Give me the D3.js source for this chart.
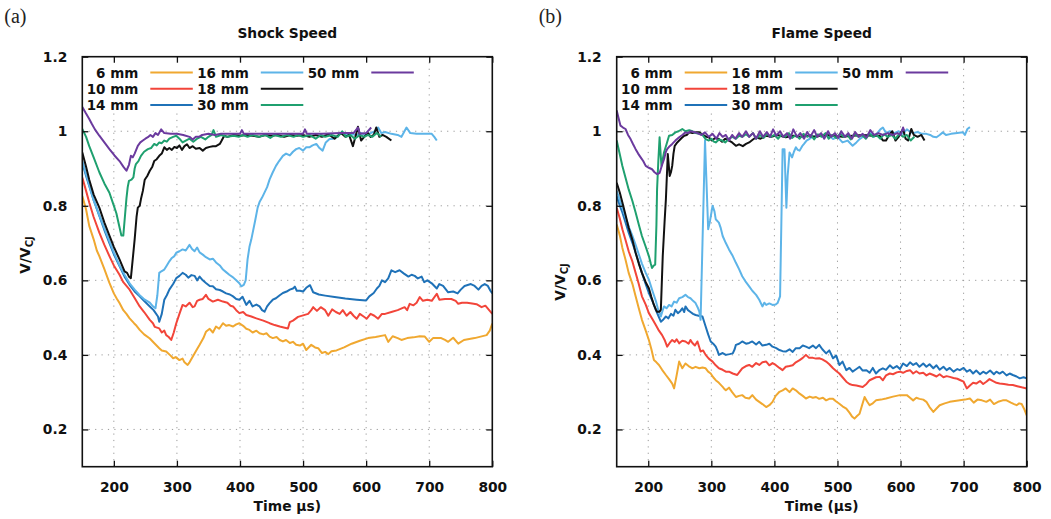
<!DOCTYPE html>
<html><head><meta charset="utf-8">
<script src="https://cdn.jsdelivr.net/npm/d3@7"></script>
<style>body{margin:0;background:#fff}</style>
</head><body><svg id="c" width="1051" height="519"></svg>
<script>
const categories = ["6 mm","10 mm","14 mm","16 mm","18 mm","30 mm","50 mm"];
const seriesColors = ["#f0a830","#f2453a","#1f72b8","#5db4e8","#111111","#1fa06f","#6b3a9e"];
const xTicks = [200,300,400,500,600,700,800];
const xTickLabels = ["200","300","400","500","600","700","800"];
const yTicks = [0.2,0.4,0.6,0.8,1.0,1.2];
const yTickLabels = ["0.2","0.4","0.6","0.8","1","1.2"];
const panelTitles = ["Shock Speed","Flame Speed"];
const panelLetters = ["(a)","(b)"];
const xLabels = ["Time \u00b5s)","Time (\u00b5s)"];

// ---- Shock speed (a) ----
const shock6 = [[150,0.826],[156,0.79],[161,0.746],[168,0.71],[173,0.68],[177,0.665],[185,0.63],[193,0.593],[200,0.565],[205,0.55],[209,0.539],[215,0.52],[220,0.51],[225,0.498],[232,0.485],[236,0.478],[241,0.467],[248,0.455],[257,0.444],[265,0.43],[272,0.418],[276,0.412],[283,0.409],[290,0.398],[294,0.391],[298,0.394],[304,0.386],[309,0.39],[312,0.38],[317,0.373],[320,0.38],[325,0.395],[330,0.41],[336,0.427],[342,0.445],[346,0.462],[352,0.47],[357,0.46],[362,0.476],[367,0.47],[373,0.485],[378,0.478],[383,0.48],[389,0.476],[394,0.482],[399,0.485],[405,0.478],[410,0.47],[415,0.467],[420,0.46],[426,0.465],[431,0.458],[437,0.455],[442,0.458],[447,0.449],[452,0.445],[458,0.448],[463,0.44],[468,0.436],[473,0.44],[479,0.432],[484,0.435],[489,0.427],[495,0.425],[500,0.43],[505,0.413],[513,0.427],[519,0.42],[524,0.418],[530,0.405],[535,0.408],[540,0.402],[545,0.41],[553,0.412],[565,0.42],[577,0.43],[590,0.438],[603,0.445],[615,0.448],[630,0.453],[635,0.435],[642,0.45],[650,0.445],[656,0.44],[665,0.445],[675,0.447],[685,0.45],[693,0.449],[700,0.435],[706,0.445],[719,0.445],[725,0.44],[730,0.435],[738,0.446],[746,0.43],[755,0.44],[772,0.445],[791,0.453],[796,0.465],[800,0.484]];
const shock10 = [[150,0.876],[156,0.84],[161,0.809],[168,0.77],[177,0.728],[185,0.695],[193,0.665],[200,0.64],[209,0.615],[215,0.595],[225,0.575],[232,0.555],[241,0.53],[248,0.515],[257,0.494],[262,0.485],[265,0.475],[272,0.471],[276,0.46],[280,0.465],[283,0.453],[287,0.448],[291,0.44],[295,0.46],[299,0.485],[304,0.51],[309,0.534],[314,0.53],[320,0.54],[325,0.528],[328,0.53],[332,0.545],[336,0.548],[341,0.55],[346,0.561],[350,0.55],[357,0.543],[365,0.548],[373,0.543],[380,0.54],[385,0.532],[389,0.53],[394,0.52],[399,0.512],[405,0.515],[410,0.507],[418,0.503],[426,0.498],[437,0.492],[447,0.485],[455,0.48],[463,0.476],[471,0.473],[476,0.471],[479,0.488],[484,0.492],[492,0.502],[500,0.506],[508,0.51],[513,0.52],[516,0.528],[522,0.518],[528,0.528],[535,0.52],[540,0.505],[546,0.522],[552,0.515],[558,0.51],[563,0.52],[569,0.505],[575,0.515],[580,0.505],[585,0.497],[590,0.51],[596,0.503],[601,0.497],[607,0.51],[613,0.505],[619,0.497],[625,0.51],[630,0.51],[640,0.515],[650,0.52],[661,0.528],[665,0.52],[669,0.537],[675,0.533],[680,0.54],[685,0.555],[690,0.545],[697,0.548],[704,0.545],[712,0.564],[716,0.548],[725,0.55],[735,0.55],[742,0.545],[746,0.537],[752,0.54],[760,0.54],[768,0.538],[775,0.536],[783,0.528],[789,0.532],[795,0.52],[800,0.51]];
const shock14 = [[150,0.916],[156,0.88],[161,0.853],[168,0.815],[177,0.773],[185,0.735],[193,0.7],[200,0.67],[209,0.638],[217,0.61],[225,0.588],[233,0.57],[241,0.557],[249,0.543],[257,0.53],[263,0.52],[270,0.503],[272,0.489],[276,0.51],[280,0.548],[284,0.56],[288,0.575],[294,0.59],[299,0.606],[304,0.612],[309,0.62],[314,0.615],[318,0.607],[323,0.614],[328,0.612],[332,0.6],[336,0.61],[341,0.6],[346,0.593],[352,0.585],[357,0.584],[362,0.576],[368,0.574],[373,0.57],[378,0.565],[384,0.562],[389,0.557],[394,0.55],[399,0.548],[404,0.556],[410,0.534],[415,0.545],[420,0.53],[426,0.535],[431,0.53],[435,0.52],[439,0.516],[443,0.53],[447,0.539],[452,0.548],[457,0.552],[463,0.56],[468,0.566],[474,0.57],[479,0.575],[484,0.578],[487,0.583],[490,0.572],[495,0.572],[500,0.57],[505,0.58],[511,0.587],[516,0.568],[525,0.562],[535,0.559],[550,0.555],[567,0.551],[585,0.548],[600,0.546],[605,0.557],[612,0.566],[617,0.578],[621,0.585],[625,0.6],[630,0.595],[635,0.605],[640,0.627],[646,0.622],[653,0.627],[660,0.618],[667,0.61],[672,0.615],[677,0.612],[682,0.605],[688,0.61],[692,0.595],[697,0.6],[704,0.592],[712,0.578],[716,0.59],[722,0.585],[730,0.568],[738,0.57],[745,0.565],[750,0.575],[756,0.585],[766,0.59],[772,0.585],[778,0.575],[783,0.585],[788,0.59],[793,0.585],[797,0.572],[800,0.565]];
const shock16 = [[150,0.92],[156,0.885],[161,0.855],[168,0.815],[177,0.775],[185,0.74],[193,0.705],[200,0.675],[209,0.64],[217,0.615],[225,0.592],[233,0.575],[241,0.56],[249,0.548],[257,0.54],[262,0.53],[266,0.525],[269,0.56],[272,0.62],[276,0.625],[280,0.629],[284,0.64],[288,0.651],[292,0.66],[296,0.665],[299,0.674],[304,0.678],[309,0.683],[314,0.68],[320,0.695],[324,0.684],[328,0.678],[332,0.688],[336,0.675],[341,0.669],[346,0.662],[352,0.656],[357,0.658],[362,0.648],[368,0.64],[373,0.629],[378,0.622],[383,0.615],[389,0.608],[394,0.6],[399,0.592],[402,0.584],[406,0.588],[409,0.6],[412,0.656],[415,0.69],[418,0.71],[424,0.76],[428,0.795],[431,0.81],[435,0.822],[439,0.836],[443,0.85],[447,0.871],[452,0.89],[457,0.907],[462,0.92],[468,0.934],[473,0.94],[479,0.935],[484,0.945],[489,0.952],[494,0.955],[500,0.948],[505,0.957],[510,0.957],[515,0.962],[521,0.966],[526,0.955],[531,0.948],[536,0.97],[542,0.979],[548,0.98],[555,0.988],[563,0.997],[570,0.99],[578,0.992],[585,0.99],[592,0.995],[600,0.99],[607,0.995],[614,1.0],[619,1.01],[624,0.995],[630,0.998],[640,0.993],[650,0.99],[656,0.985],[664,1.01],[670,0.995],[680,0.993],[693,0.993],[704,0.993],[708,0.985],[712,0.975]];
const shock18 = [[150,0.943],[156,0.905],[161,0.87],[168,0.83],[177,0.795],[185,0.755],[193,0.72],[200,0.69],[209,0.656],[213,0.64],[217,0.624],[221,0.62],[224,0.61],[227,0.606],[229,0.64],[233,0.71],[236,0.77],[238,0.795],[241,0.8],[243,0.818],[246,0.84],[249,0.87],[253,0.88],[257,0.894],[261,0.905],[264,0.92],[268,0.925],[272,0.934],[276,0.94],[280,0.957],[284,0.95],[288,0.955],[292,0.95],[296,0.958],[300,0.955],[304,0.962],[308,0.95],[312,0.96],[316,0.965],[320,0.955],[325,0.96],[330,0.953],[336,0.955],[341,0.948],[346,0.955],[352,0.958],[357,0.96],[362,0.96],[368,0.966],[371,0.975],[375,0.988],[380,0.985],[390,0.99],[400,0.988],[410,0.99],[420,0.988],[430,0.985],[440,0.99],[450,0.988],[460,0.99],[470,0.985],[480,0.99],[490,0.988],[500,0.99],[510,0.985],[520,0.99],[530,0.985],[540,0.992],[550,0.98],[560,0.995],[567,0.985],[573,0.99],[579,0.96],[583,0.985],[587,1.012],[592,0.975],[597,0.985],[603,0.995],[607,0.985],[612,0.99],[616,1.01],[621,0.985],[626,0.99],[632,0.985],[640,0.975]];
const shock30 = [[150,1.006],[156,0.985],[161,0.96],[168,0.93],[177,0.89],[185,0.86],[193,0.835],[199,0.805],[204,0.78],[208,0.75],[212,0.72],[215,0.72],[218,0.78],[220,0.82],[222,0.85],[224,0.867],[228,0.87],[231,0.876],[233,0.9],[235,0.912],[239,0.92],[243,0.934],[248,0.945],[254,0.952],[259,0.955],[264,0.966],[268,0.962],[272,0.97],[276,0.968],[280,0.975],[284,0.972],[288,0.98],[294,0.985],[299,0.988],[304,0.98],[309,0.97],[314,0.975],[320,0.98],[326,0.972],[332,0.98],[338,0.985],[345,0.978],[350,0.985],[355,0.99],[358,1.003],[362,0.985],[370,0.99],[380,0.985],[390,0.988],[398,0.985],[405,0.99],[412,0.985],[420,0.99],[430,0.985],[440,0.99],[448,0.982],[455,0.99],[465,0.985],[475,0.99],[485,0.985],[492,0.99],[500,0.985],[510,0.99],[520,0.98],[528,0.99],[535,0.985],[545,0.99],[555,0.985],[562,1.0],[568,0.985],[575,0.99],[582,0.98],[590,0.99],[597,0.985],[603,0.99],[610,0.985],[617,0.995],[624,0.985]];
const shock50 = [[150,1.065],[155,1.05],[161,1.033],[165,1.02],[170,1.005],[177,0.988],[185,0.97],[193,0.952],[201,0.935],[209,0.92],[215,0.905],[220,0.894],[224,0.91],[227,0.934],[230,0.93],[233,0.94],[238,0.961],[242,0.97],[246,0.975],[250,0.98],[254,0.984],[258,0.99],[262,0.985],[266,0.995],[270,0.99],[275,1.005],[280,0.995],[290,0.993],[300,0.993],[310,0.99],[320,0.985],[325,0.978],[330,0.985],[335,0.985],[340,0.99],[350,0.993],[360,0.99],[370,0.993],[380,0.993],[390,0.993],[400,0.993],[403,1.003],[406,0.993],[420,0.993],[440,0.993],[460,0.993],[480,0.993],[500,0.993],[503,1.005],[506,0.993],[530,0.993],[560,0.995],[580,0.995],[587,1.01],[590,0.993],[600,0.995],[608,1.01]];

// ---- Flame speed (b) ----
const flame6 = [[150,0.75],[155,0.72],[159,0.687],[164,0.655],[169,0.62],[175,0.59],[180,0.557],[185,0.525],[190,0.494],[196,0.465],[201,0.44],[205,0.415],[209,0.386],[213,0.38],[217,0.373],[222,0.36],[228,0.346],[233,0.335],[238,0.323],[241,0.31],[245,0.345],[249,0.382],[254,0.364],[259,0.377],[264,0.37],[270,0.364],[275,0.368],[281,0.364],[286,0.366],[291,0.364],[295,0.355],[299,0.35],[303,0.34],[307,0.332],[312,0.325],[318,0.314],[320,0.31],[323,0.305],[328,0.312],[333,0.3],[339,0.287],[344,0.29],[349,0.292],[354,0.285],[360,0.283],[365,0.292],[371,0.28],[376,0.274],[381,0.268],[387,0.26],[392,0.265],[397,0.274],[402,0.29],[408,0.301],[413,0.305],[418,0.31],[424,0.3],[429,0.31],[434,0.305],[440,0.296],[445,0.29],[450,0.283],[456,0.288],[461,0.285],[466,0.287],[471,0.282],[477,0.285],[482,0.278],[487,0.282],[493,0.282],[498,0.275],[503,0.269],[508,0.262],[514,0.256],[519,0.245],[523,0.235],[527,0.229],[531,0.236],[535,0.242],[539,0.265],[543,0.287],[547,0.275],[551,0.265],[556,0.27],[561,0.278],[569,0.28],[577,0.283],[588,0.288],[599,0.292],[610,0.292],[615,0.285],[620,0.278],[625,0.285],[630,0.282],[636,0.28],[641,0.274],[646,0.26],[652,0.247],[657,0.256],[662,0.265],[670,0.27],[678,0.274],[686,0.276],[694,0.278],[702,0.28],[710,0.283],[716,0.272],[722,0.28],[729,0.278],[736,0.274],[742,0.28],[748,0.268],[756,0.275],[762,0.278],[768,0.278],[775,0.272],[780,0.268],[784,0.265],[788,0.27],[792,0.268],[796,0.255],[800,0.238]];
const flame10 = [[150,0.795],[155,0.765],[159,0.737],[164,0.708],[169,0.678],[175,0.65],[180,0.62],[185,0.59],[190,0.557],[196,0.535],[201,0.512],[207,0.495],[212,0.48],[217,0.465],[222,0.453],[226,0.44],[230,0.422],[234,0.432],[238,0.44],[242,0.435],[245,0.442],[249,0.431],[254,0.438],[259,0.436],[264,0.43],[267,0.44],[270,0.432],[274,0.425],[278,0.436],[283,0.409],[287,0.412],[291,0.4],[296,0.39],[302,0.382],[307,0.372],[312,0.364],[318,0.36],[323,0.355],[328,0.355],[334,0.35],[341,0.346],[345,0.355],[349,0.364],[355,0.37],[360,0.373],[365,0.368],[371,0.378],[376,0.373],[381,0.38],[387,0.382],[392,0.372],[397,0.378],[402,0.373],[408,0.365],[413,0.359],[418,0.368],[424,0.37],[429,0.372],[434,0.38],[440,0.386],[445,0.392],[450,0.4],[455,0.392],[461,0.392],[466,0.39],[471,0.391],[476,0.388],[482,0.382],[487,0.375],[493,0.364],[498,0.357],[503,0.35],[508,0.34],[514,0.328],[519,0.322],[524,0.319],[530,0.318],[535,0.316],[540,0.314],[546,0.322],[551,0.332],[556,0.336],[561,0.34],[567,0.341],[572,0.332],[577,0.345],[583,0.35],[588,0.348],[594,0.353],[599,0.355],[604,0.352],[610,0.357],[615,0.359],[620,0.35],[625,0.356],[630,0.35],[636,0.352],[641,0.345],[646,0.35],[652,0.346],[657,0.342],[662,0.348],[668,0.34],[673,0.343],[678,0.341],[684,0.338],[690,0.336],[695,0.332],[700,0.328],[705,0.31],[710,0.318],[715,0.325],[720,0.323],[726,0.33],[731,0.322],[736,0.328],[741,0.335],[746,0.33],[752,0.325],[757,0.323],[764,0.322],[771,0.32],[778,0.319],[785,0.316],[792,0.313],[800,0.31]];
const flame14 = [[150,0.826],[155,0.8],[159,0.782],[164,0.755],[169,0.728],[175,0.7],[180,0.674],[185,0.648],[190,0.62],[196,0.59],[201,0.566],[207,0.543],[212,0.521],[216,0.505],[220,0.489],[224,0.495],[228,0.503],[232,0.498],[236,0.51],[240,0.505],[243,0.521],[247,0.512],[251,0.518],[254,0.525],[257,0.515],[259,0.53],[263,0.52],[267,0.515],[271,0.51],[275,0.507],[280,0.505],[286,0.503],[291,0.476],[295,0.455],[299,0.436],[303,0.43],[307,0.422],[310,0.41],[312,0.4],[318,0.405],[323,0.4],[329,0.402],[334,0.404],[337,0.415],[339,0.427],[344,0.43],[349,0.436],[355,0.43],[360,0.432],[365,0.436],[371,0.428],[376,0.435],[381,0.425],[387,0.427],[392,0.43],[397,0.422],[403,0.418],[408,0.413],[413,0.41],[418,0.409],[424,0.415],[429,0.408],[434,0.418],[440,0.418],[445,0.425],[450,0.422],[455,0.418],[461,0.425],[466,0.418],[471,0.427],[476,0.415],[482,0.404],[487,0.412],[493,0.391],[498,0.398],[503,0.373],[508,0.382],[514,0.359],[519,0.365],[524,0.355],[530,0.362],[535,0.368],[540,0.358],[546,0.359],[551,0.352],[556,0.365],[561,0.35],[567,0.36],[572,0.364],[577,0.36],[583,0.372],[588,0.364],[594,0.37],[599,0.362],[604,0.377],[610,0.37],[615,0.38],[620,0.373],[625,0.378],[630,0.368],[636,0.377],[641,0.368],[646,0.375],[652,0.364],[657,0.372],[662,0.36],[668,0.368],[673,0.359],[678,0.365],[684,0.355],[690,0.362],[694,0.359],[700,0.365],[705,0.355],[710,0.36],[715,0.35],[720,0.358],[726,0.348],[731,0.355],[736,0.35],[742,0.358],[748,0.348],[752,0.355],[757,0.35],[762,0.355],[768,0.345],[773,0.35],[778,0.346],[784,0.342],[789,0.337],[795,0.34],[800,0.337]];
const flame16 = [[150,0.84],[155,0.815],[160,0.79],[165,0.765],[170,0.74],[175,0.719],[180,0.695],[185,0.67],[190,0.645],[196,0.62],[201,0.602],[207,0.57],[212,0.545],[216,0.52],[220,0.503],[223,0.52],[225,0.53],[229,0.525],[233,0.534],[237,0.53],[241,0.543],[245,0.54],[249,0.552],[254,0.555],[259,0.561],[263,0.555],[267,0.552],[271,0.545],[275,0.539],[279,0.525],[281,0.516],[283,0.494],[286,0.7],[290,0.975],[292,0.88],[295,0.737],[298,0.76],[302,0.8],[305,0.785],[307,0.764],[312,0.755],[315,0.74],[318,0.719],[323,0.7],[328,0.683],[334,0.665],[339,0.647],[344,0.63],[349,0.611],[355,0.595],[360,0.584],[365,0.572],[371,0.561],[376,0.548],[381,0.53],[384,0.54],[387,0.534],[392,0.538],[397,0.534],[402,0.535],[405,0.539],[409,0.557],[411,0.75],[413,0.952],[416,0.952],[419,0.795],[421,0.88],[424,0.943],[428,0.93],[431,0.945],[434,0.957],[437,0.95],[440,0.948],[444,0.96],[447,0.966],[451,0.975],[455,0.979],[460,0.985],[466,0.988],[472,0.99],[478,0.985],[484,0.992],[493,0.979],[500,0.985],[508,0.97],[516,0.975],[524,0.961],[530,0.97],[535,0.979],[540,0.985],[547,0.99],[553,0.995],[558,0.985],[563,0.995],[568,1.005],[572,1.01],[577,0.995],[583,1.0],[590,0.995],[597,1.0],[604,0.993],[610,1.005],[614,1.0],[620,0.995],[627,0.998],[634,0.993],[641,0.993],[647,0.99],[652,0.985],[657,0.984],[662,0.99],[667,0.997],[672,0.99],[680,0.993],[690,0.995],[699,0.997],[702,0.99],[706,1.006],[710,1.011]];
const flame18 = [[150,0.862],[155,0.835],[159,0.809],[164,0.775],[169,0.741],[175,0.708],[180,0.674],[185,0.645],[190,0.62],[196,0.595],[201,0.579],[205,0.555],[209,0.534],[212,0.522],[214,0.516],[218,0.516],[220,0.521],[223,0.665],[226,0.76],[228,0.818],[231,0.939],[234,0.88],[236,0.89],[238,0.907],[240,0.94],[242,0.961],[246,0.97],[249,0.975],[253,0.982],[257,0.988],[261,0.99],[265,0.997],[270,0.995],[275,0.997],[281,0.997],[287,0.99],[292,0.985],[296,0.984],[301,0.975],[306,0.982],[312,0.979],[317,0.972],[322,0.98],[328,0.975],[333,0.97],[339,0.961],[344,0.965],[350,0.96],[355,0.966],[360,0.97],[366,0.978],[371,0.984],[378,0.98],[387,0.988],[395,0.985],[405,0.99],[418,0.984],[430,0.988],[440,0.985],[450,0.988],[465,0.985],[480,0.99],[493,0.988],[508,0.985],[524,0.988],[540,0.99],[555,0.988],[567,0.988],[572,0.975],[577,0.975],[582,0.99],[587,1.0],[592,0.975],[597,0.985],[600,0.995],[604,1.006],[608,0.98],[612,0.975],[617,1.006],[621,0.99],[627,0.985],[633,0.99],[638,0.975]];
const flame30 = [[150,0.975],[154,0.945],[159,0.907],[164,0.875],[169,0.844],[175,0.812],[180,0.782],[185,0.75],[190,0.719],[196,0.69],[201,0.665],[204,0.645],[206,0.633],[209,0.64],[211,0.642],[213,0.75],[214,0.844],[216,0.92],[218,0.984],[220,0.93],[221,0.907],[223,0.925],[225,0.943],[229,0.965],[233,0.988],[238,0.99],[243,0.997],[248,1.0],[254,1.006],[259,1.0],[265,1.003],[270,1.0],[275,0.995],[281,0.993],[286,0.99],[291,0.979],[296,0.975],[300,0.98],[304,0.972],[307,0.97],[312,0.978],[317,0.975],[322,0.97],[328,0.98],[333,0.985],[339,0.98],[344,0.988],[349,0.985],[355,0.992],[360,0.985],[366,0.995],[371,0.98],[377,0.99],[383,0.982],[388,0.993],[394,0.985],[400,0.99],[406,0.98],[411,0.99],[417,0.985],[423,0.995],[428,0.982],[434,0.99],[440,0.98],[446,0.993],[452,0.985],[458,0.99],[463,0.978],[469,0.992],[475,0.985],[481,0.995],[486,0.98],[492,0.99],[498,0.982],[504,0.993],[510,0.985],[516,0.99],[521,0.978],[527,0.993],[533,0.985],[539,0.99],[545,0.98],[551,0.993],[556,0.985],[562,0.99],[568,0.98],[574,0.992],[580,0.985],[586,0.99],[592,0.98],[598,0.993],[604,0.985],[610,0.99],[616,0.975],[622,0.985]];
const flame50 = [[150,1.056],[153,1.035],[156,1.015],[160,1.01],[164,1.006],[168,0.99],[172,0.979],[176,0.965],[180,0.952],[184,0.94],[188,0.93],[192,0.92],[196,0.907],[201,0.902],[206,0.898],[210,0.89],[214,0.885],[218,0.888],[222,0.91],[225,0.925],[228,0.945],[230,0.952],[234,0.96],[238,0.966],[243,0.975],[249,0.984],[254,0.99],[259,0.997],[263,0.995],[267,1.0],[272,0.998],[278,0.995],[284,0.99],[290,0.997],[296,0.985],[302,0.993],[308,0.98],[313,0.995],[318,0.985],[323,0.99],[328,0.975],[333,0.99],[338,0.98],[344,0.995],[349,0.985],[355,1.0],[360,0.985],[366,0.995],[371,0.98],[377,1.0],[382,0.985],[388,0.998],[393,0.985],[398,1.005],[403,0.988],[409,1.0],[414,0.985],[420,0.995],[425,0.98],[430,1.005],[436,0.985],[441,0.995],[447,0.98],[452,0.998],[457,0.985],[463,1.003],[468,0.985],[474,0.995],[479,0.98],[485,1.0],[490,0.985],[496,0.995],[501,0.982],[506,1.0],[512,0.985],[517,0.995],[523,0.98],[528,0.998],[534,0.985],[540,0.993],[546,0.983],[552,1.003],[558,0.99],[565,0.995],[572,0.99],[580,0.995],[587,0.99],[595,0.995],[600,0.99],[604,1.01],[606,1.0]];

const shockSeries = [shock6, shock10, shock14, shock16, shock18, shock30, shock50];
const flameSeries = [flame6, flame10, flame14, flame16, flame18, flame30, flame50];

const svg = d3.select("#c");
const FONT = "'DejaVu Sans', sans-serif";

function drawPanel(idx, left, series) {
  const right = left + 410, top = 56.7, bottom = 466.7;
  const x = d3.scaleLinear().domain([150, 800]).range([left, right]);
  const y = d3.scaleLinear().domain([0.1, 1.2]).range([bottom, top]);
  const g = svg.append("g");

  g.append("text").attr("x", left - 78).attr("y", 23)
    .attr("font-family", "'Liberation Serif', serif").attr("font-size", 20).attr("fill", "#222")
    .text(panelLetters[idx]);
  g.append("text").attr("x", (left + right) / 2).attr("y", 38).attr("text-anchor", "middle")
    .attr("font-family", FONT).attr("font-weight", "bold").attr("font-size", 13.8).attr("fill", "#111")
    .text(panelTitles[idx]);

  const grid = g.append("g").attr("stroke", "#9a9a9a").attr("stroke-width", 1).attr("stroke-dasharray", "1.2,5.2");
  xTicks.filter(t => t < 800).forEach(t => grid.append("line")
    .attr("x1", x(t)).attr("x2", x(t)).attr("y1", bottom).attr("y2", top));
  yTicks.filter(t => t < 1.2).forEach(t => grid.append("line")
    .attr("x1", left).attr("x2", right).attr("y1", y(t)).attr("y2", y(t)));

  g.append("rect").attr("x", left + 1).attr("y", top + 1).attr("width", 340).attr("height", 54).attr("fill", "#fff");

  const clipId = "clip" + idx;
  svg.append("clipPath").attr("id", clipId).append("rect")
    .attr("x", left).attr("y", top).attr("width", right - left).attr("height", bottom - top);
  const line = d3.line().x(d => x(d[0])).y(d => y(d[1]));
  const curves = g.append("g").attr("clip-path", `url(#${clipId})`);
  series.forEach((s, i) => curves.append("path").attr("d", line(s)).attr("fill", "none")
    .attr("stroke", seriesColors[i]).attr("stroke-width", 2).attr("stroke-linejoin", "round"));

  categories.forEach((c, i) => {
    const col = Math.floor(i / 3), row = i % 3;
    const tx = left + 56 + col * 110.5;
    const cy = top + 15.8 + row * 16.3;
    g.append("text").attr("x", tx).attr("y", cy + 5).attr("text-anchor", "end")
      .attr("font-family", FONT).attr("font-weight", "bold").attr("font-size", 13.5).attr("fill", "#111").text(c);
    g.append("line").attr("x1", tx + 12).attr("x2", tx + 54.5).attr("y1", cy).attr("y2", cy)
      .attr("stroke", seriesColors[i]).attr("stroke-width", 2);
  });

  g.append("rect").attr("x", left).attr("y", top).attr("width", right - left).attr("height", bottom - top)
    .attr("fill", "none").attr("stroke", "#111").attr("stroke-width", 1.6);

  const axB = d3.axisBottom(x).tickValues(xTicks).tickFormat((d, i) => xTickLabels[i]).tickSizeInner(-6).tickSizeOuter(0).tickPadding(16);
  const axT = d3.axisTop(x).tickValues(xTicks).tickFormat("").tickSizeInner(-6).tickSizeOuter(0);
  const axL = d3.axisLeft(y).tickValues(yTicks).tickFormat((d, i) => yTickLabels[i]).tickSizeInner(-6).tickSizeOuter(0).tickPadding(15);
  const axR = d3.axisRight(y).tickValues(yTicks).tickFormat("").tickSizeInner(-6).tickSizeOuter(0);
  const style = sel => {
    sel.select(".domain").remove();
    sel.selectAll(".tick line").attr("stroke", "#111").attr("stroke-width", 1.3);
    sel.selectAll("text").attr("font-family", FONT).attr("font-weight", "bold").attr("font-size", 13.8).attr("fill", "#111");
  };
  g.append("g").attr("transform", `translate(0,${bottom})`).call(axB).call(style);
  g.append("g").attr("transform", `translate(0,${top})`).call(axT).call(style);
  g.append("g").attr("transform", `translate(${left},0)`).call(axL).call(style);
  g.append("g").attr("transform", `translate(${right},0)`).call(axR).call(style);

  g.append("text").attr("x", (left + right) / 2).attr("y", 511).attr("text-anchor", "middle")
    .attr("font-family", FONT).attr("font-weight", "bold").attr("font-size", 13.8).attr("fill", "#111")
    .text(xLabels[idx]);
  const yl = g.append("text").attr("transform", `translate(${left - 52},${idx === 0 ? 255 : 282}) rotate(-90)`)
    .attr("text-anchor", "middle").attr("font-family", FONT).attr("font-weight", "bold").attr("font-size", 13.8).attr("fill", "#111");
  yl.append("tspan").text("V/V");
  yl.append("tspan").attr("font-size", 10).attr("dy", 3).text("CJ");
}

drawPanel(0, 82.3, shockSeries);
drawPanel(1, 616.7, flameSeries);
</script></body></html>
